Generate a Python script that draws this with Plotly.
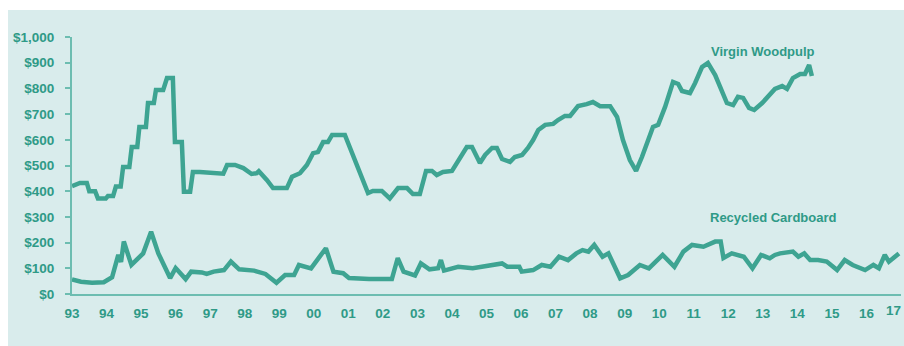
import plotly.graph_objects as go

# Virgin woodpulp price, $ per ton (fractional year, value)
woodpulp_t = [1993.0, 1993.23, 1993.43, 1993.5, 1993.67, 1993.75, 1993.98, 1994.04, 1994.19, 1994.27,
              1994.41, 1994.48, 1994.66, 1994.73, 1994.89, 1994.95, 1995.14, 1995.2, 1995.37, 1995.43,
              1995.64, 1995.75, 1995.92, 1995.98, 1996.18, 1996.24, 1996.42, 1996.5, 1996.7, 1997.08,
              1997.38, 1997.49, 1997.72, 1997.96, 1998.2, 1998.35, 1998.41, 1998.64, 1998.82, 1999.22,
              1999.37, 1999.6, 1999.8, 1999.98, 2000.12, 2000.27, 2000.41, 2000.53, 2000.9, 2001.57,
              2001.71, 2001.97, 2002.2, 2002.44, 2002.7, 2002.87, 2003.07, 2003.25, 2003.42, 2003.56,
              2003.74, 2004.0, 2004.18, 2004.29, 2004.43, 2004.58, 2004.81, 2004.96, 2005.16, 2005.3,
              2005.45, 2005.68, 2005.82, 2006.03, 2006.2, 2006.35, 2006.5, 2006.7, 2006.93, 2007.07,
              2007.27, 2007.42, 2007.65, 2007.9, 2008.08, 2008.29, 2008.58, 2008.78, 2008.95, 2009.15,
              2009.33, 2009.5, 2009.82, 2009.97, 2010.17, 2010.4, 2010.55, 2010.66, 2010.89, 2011.04,
              2011.24, 2011.41, 2011.62, 2011.96, 2012.14, 2012.28, 2012.43, 2012.6, 2012.75, 2012.98,
              2013.15, 2013.35, 2013.56, 2013.7, 2013.87, 2014.08, 2014.22, 2014.34, 2014.42]
woodpulp_v = [420, 432, 432, 400, 400, 372, 372, 381, 381, 418,
              418, 494, 494, 572, 572, 650, 650, 743, 743, 794,
              794, 840, 840, 591, 591, 398, 398, 475, 475, 470,
              468, 502, 502, 490, 467, 470, 478, 444, 412, 412,
              456, 470, 502, 548, 552, 591, 591, 619, 619, 393,
              401, 401, 372, 412, 412, 389, 389, 479, 479, 463,
              475, 479, 521, 548, 572, 572, 510, 541, 568, 568,
              525, 514, 533, 541, 568, 599, 638, 658, 662, 677,
              693, 693, 731, 739, 747, 731, 731, 689, 599, 521,
              479, 533, 650, 658, 728, 825, 817, 790, 782, 821,
              883, 899, 852, 743, 735, 767, 763, 724, 716, 743,
              767, 798, 809, 798, 840, 856, 856, 891, 848]

# Recycled cardboard price, $ per ton
cardboard_t = [1993.0, 1993.26, 1993.58, 1993.92, 1994.16, 1994.34, 1994.42, 1994.5, 1994.72, 1995.06,
               1995.29, 1995.5, 1995.84, 1996.0, 1996.29, 1996.45, 1996.76, 1996.9, 1997.1, 1997.4,
               1997.6, 1997.84, 1998.27, 1998.6, 1998.92, 1999.17, 1999.43, 1999.57, 1999.92, 2000.35,
               2000.57, 2000.85, 2001.02, 2001.6, 2002.26, 2002.43, 2002.6, 2002.93, 2003.1, 2003.35,
               2003.6, 2003.68, 2003.77, 2004.18, 2004.6, 2005.1, 2005.45, 2005.6, 2005.95, 2006.02,
               2006.35, 2006.6, 2006.85, 2007.1, 2007.36, 2007.6, 2007.78, 2007.95, 2008.12, 2008.36,
               2008.53, 2008.87, 2009.1, 2009.44, 2009.7, 2010.1, 2010.44, 2010.7, 2010.95, 2011.28,
               2011.62, 2011.78, 2011.86, 2012.1, 2012.45, 2012.7, 2012.95, 2013.2, 2013.35, 2013.5,
               2013.87, 2014.03, 2014.2, 2014.37, 2014.6, 2014.85, 2015.15, 2015.37, 2015.6, 2015.96,
               2016.2, 2016.36, 2016.53, 2016.65, 2016.94]
cardboard_v = [57, 48, 44, 46, 65, 152, 125, 204, 113, 158,
               242, 158, 62, 101, 58, 87, 84, 78, 87, 93,
               126, 96, 91, 78, 44, 74, 74, 113, 100, 178,
               87, 81, 62, 58, 58, 140, 87, 72, 119, 96,
               100, 132, 91, 106, 100, 113, 119, 106, 106, 87,
               93, 113, 106, 145, 132, 158, 171, 165, 191, 145,
               158, 61, 74, 113, 100, 152, 106, 165, 191, 184,
               204, 204, 140, 158, 145, 100, 152, 139, 152, 158,
               165, 145, 158, 132, 132, 126, 93, 132, 113, 93,
               113, 100, 152, 126, 158]

year_ticks = list(range(1993, 2018))
year_labels = [f"{y % 100:02d}" for y in year_ticks]
price_ticks = list(range(0, 1001, 100))
price_labels = [f"${v:,}" for v in price_ticks]

LINE = "#3ea492"
TEXT = "#2f9a87"
AXIS = "#6dbdb1"
PANEL = "#d9ecec"
FONT = "Liberation Sans"
tick_font = dict(family=FONT, size=13.5, color=TEXT, weight="bold")

fig = go.Figure()
fig.add_trace(go.Scatter(x=woodpulp_t, y=woodpulp_v, mode="lines", name="Virgin Woodpulp",
                         line=dict(color=LINE, width=4.5), showlegend=False))
fig.add_trace(go.Scatter(x=cardboard_t, y=cardboard_v, mode="lines", name="Recycled Cardboard",
                         line=dict(color=LINE, width=4.5), showlegend=False))

fig.add_annotation(x=2013.0, y=945, text="Virgin Woodpulp", showarrow=False,
                   font=dict(family=FONT, size=13, color=TEXT, weight="bold"))
fig.add_annotation(x=2013.3, y=297, text="Recycled Cardboard", showarrow=False,
                   font=dict(family=FONT, size=13, color=TEXT, weight="bold"))

# last year label sits at the right edge of the figure, kept inside it
fig.add_annotation(x=year_ticks[-1], xref="x", xanchor="right", xshift=2,
                   y=0, yref="paper", yanchor="top", yshift=-7,
                   text=year_labels[-1], showarrow=False, font=tick_font)

# light panel behind the whole chart, leaving a thin white edge top and left
fig.add_shape(type="rect", xref="paper", yref="paper",
              x0=-0.0772, x1=1.01, y0=-0.21, y1=1.105,
              fillcolor=PANEL, line=dict(width=0), layer="below")

fig.update_layout(
    width=904, height=346,
    margin=dict(l=72, r=3, t=37, b=52),
    paper_bgcolor="white",
    plot_bgcolor="rgba(0,0,0,0)",
    font=dict(family=FONT, color=TEXT),
    xaxis=dict(range=[1993, 2017], tickvals=year_ticks, ticktext=year_labels,
               showgrid=False, zeroline=False, showline=True, linecolor=AXIS, linewidth=2,
               ticks="", ticklabelstandoff=6, tickfont=tick_font),
    yaxis=dict(range=[0, 1000], tickvals=price_ticks, ticktext=price_labels,
               showgrid=False, zeroline=False, showline=True, linecolor=AXIS, linewidth=2,
               ticks="outside", ticklen=5, tickwidth=1.5, tickcolor=AXIS, ticklabelstandoff=8,
               tickfont=tick_font),
)

fig.write_html("out.html")
